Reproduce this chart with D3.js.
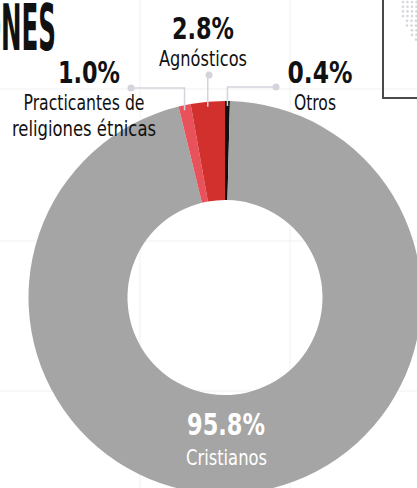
<!DOCTYPE html>
<html>
<head>
<meta charset="utf-8">
<script src="https://cdn.jsdelivr.net/npm/d3@7/dist/d3.min.js"></script>
<style>
  html, body { margin: 0; padding: 0; background: #fff; overflow: hidden; }
</style>
</head>
<body>
<div id="chart"></div>
<script>
// data, in clockwise order from 12 o'clock
var categories = ["Otros", "Cristianos", "Practicantes de religiones étnicas", "Agnósticos"];
var values = [0.4, 95.8, 1.0, 2.8];
var valueLabels = ["0.4%", "95.8%", "1.0%", "2.8%"];
var nameLines = [["Otros"], ["Cristianos"], ["Practicantes de", "religiones étnicas"], ["Agnósticos"]];
var title = "RELIGIONES";

var width = 417, height = 488;
var cx = 225, cy = 297.5, outerR = 196.5, innerR = 97.5;

var color = d3.scaleOrdinal()
  .domain(categories)
  .range(["#111111", "#a5a5a5", "#e9525a", "#d1302c"]);

// where each label sits (center x, baseline of the percentage) and how wide the text runs
var labelLayout = {
  "Otros": {x: 320, y: 83, pctW: 65, nameX: 315, nameW: [42], dot: [276, 87]},
  "Cristianos": {x: 226, y: 435, pctW: 78, nameX: 226.5, nameW: [81], inside: true},
  "Practicantes de religiones étnicas": {x: 89, y: 83, pctW: 62, nameX: 84, nameW: [121, 144], dot: [131, 88]},
  "Agnósticos": {x: 203, y: 39, pctW: 62, nameX: 203, nameW: [88], dot: [209, 75]}
};

var fontFamily = "'DejaVu Sans Condensed', 'Liberation Sans Narrow', sans-serif";

var svg = d3.select("#chart").append("svg")
  .attr("width", width)
  .attr("height", height);

// faint background grid
var gridX = [140, 290], gridY = [89, 241, 391];
svg.selectAll("line.gx").data(gridX).enter().append("line")
  .attr("class", "gx")
  .attr("x1", function(d) { return d; }).attr("x2", function(d) { return d; })
  .attr("y1", 0).attr("y2", height)
  .attr("stroke", "#f1f1f1").attr("stroke-width", 1);
svg.selectAll("line.gy").data(gridY).enter().append("line")
  .attr("class", "gy")
  .attr("y1", function(d) { return d; }).attr("y2", function(d) { return d; })
  .attr("x1", 0).attr("x2", width)
  .attr("stroke", "#f1f1f1").attr("stroke-width", 1);

// map box in the top right corner
var mapRowStarts = [403, 403, 403, 403, 407, 407, 412, 412, 416];
var mapDots = [];
mapRowStarts.forEach(function(start, i) {
  for (var x = start; x <= width + 2; x += 4.5) mapDots.push({x: x, y: 2 + i * 4.7});
});
svg.selectAll("circle.mapdot").data(mapDots).enter().append("circle")
  .attr("class", "mapdot")
  .attr("cx", function(d) { return d.x; })
  .attr("cy", function(d) { return d.y; })
  .attr("r", 1.3)
  .attr("fill", "#d6d6de");
svg.append("rect")
  .attr("x", 383).attr("y", -10)
  .attr("width", 60).attr("height", 108)
  .attr("fill", "none")
  .attr("stroke", "#4a4a4a")
  .attr("stroke-width", 2);

// title, cut off by the left edge: squeeze it so that "NES" is 55px wide
var titleText = svg.append("text")
  .attr("x", 56).attr("y", 50)
  .attr("text-anchor", "end")
  .attr("font-family", fontFamily)
  .attr("font-size", 64)
  .attr("font-weight", "bold")
  .attr("fill", "#111")
  .text(title);
var fullW = titleText.node().getComputedTextLength();
var tailW = titleText.node().getSubStringLength(title.length - 3, 3);
titleText
  .attr("textLength", fullW * 55 / tailW)
  .attr("lengthAdjust", "spacingAndGlyphs");

// donut
var pie = d3.pie().sort(null).value(function(d) { return d.value; });
var arc = d3.arc().innerRadius(innerR).outerRadius(outerR);

var slices = pie(categories.map(function(c, i) {
  return {name: c, value: values[i], pct: valueLabels[i], lines: nameLines[i]};
}));

var donut = svg.append("g").attr("transform", "translate(" + cx + "," + cy + ")");
donut.selectAll("path.slice").data(slices).enter().append("path")
  .attr("class", "slice")
  .attr("d", arc)
  .attr("fill", function(d) { return color(d.data.name); });

// leader lines
function leaderPoints(d) {
  var L = labelLayout[d.data.name];
  var mid = (d.startAngle + d.endAngle) / 2;
  var sx = cx + outerR * Math.sin(mid);
  var sy = cy - outerR * Math.cos(mid) + 5;
  return [L.dot, [sx, L.dot[1]], [sx, sy]];
}

var outside = slices.filter(function(d) { return !labelLayout[d.data.name].inside; });

svg.selectAll("polyline.leader").data(outside).enter().append("polyline")
  .attr("class", "leader")
  .attr("points", function(d) { return leaderPoints(d).join(" "); })
  .attr("fill", "none")
  .attr("stroke", "#d4d4dc")
  .attr("stroke-width", 1.5);

svg.selectAll("circle.leaderdot").data(outside).enter().append("circle")
  .attr("class", "leaderdot")
  .attr("cx", function(d) { return labelLayout[d.data.name].dot[0]; })
  .attr("cy", function(d) { return labelLayout[d.data.name].dot[1]; })
  .attr("r", 3.5)
  .attr("fill", "#d4d4dc");

// labels
var labels = svg.selectAll("g.label").data(slices).enter().append("g").attr("class", "label");

labels.append("text")
  .attr("x", function(d) { return labelLayout[d.data.name].x; })
  .attr("y", function(d) { return labelLayout[d.data.name].y; })
  .attr("text-anchor", "middle")
  .attr("font-family", fontFamily)
  .attr("font-size", 31)
  .attr("font-weight", "bold")
  .attr("textLength", function(d) { return labelLayout[d.data.name].pctW; })
  .attr("lengthAdjust", "spacingAndGlyphs")
  .attr("fill", function(d) { return labelLayout[d.data.name].inside ? "#fff" : "#111"; })
  .text(function(d) { return d.data.pct; });

labels.each(function(d) {
  var L = labelLayout[d.data.name];
  d3.select(this).selectAll("text.name").data(d.data.lines).enter().append("text")
    .attr("class", "name")
    .attr("x", L.nameX)
    .attr("y", function(line, i) { return L.y + (L.inside ? 30 : 27) + i * 26; })
    .attr("text-anchor", "middle")
    .attr("font-family", fontFamily)
    .attr("font-size", 22)
    .attr("textLength", function(line, i) { return L.nameW[i]; })
    .attr("lengthAdjust", "spacingAndGlyphs")
    .attr("fill", L.inside ? "#fff" : "#111")
    .text(function(line) { return line; });
});
</script>
</body>
</html>
